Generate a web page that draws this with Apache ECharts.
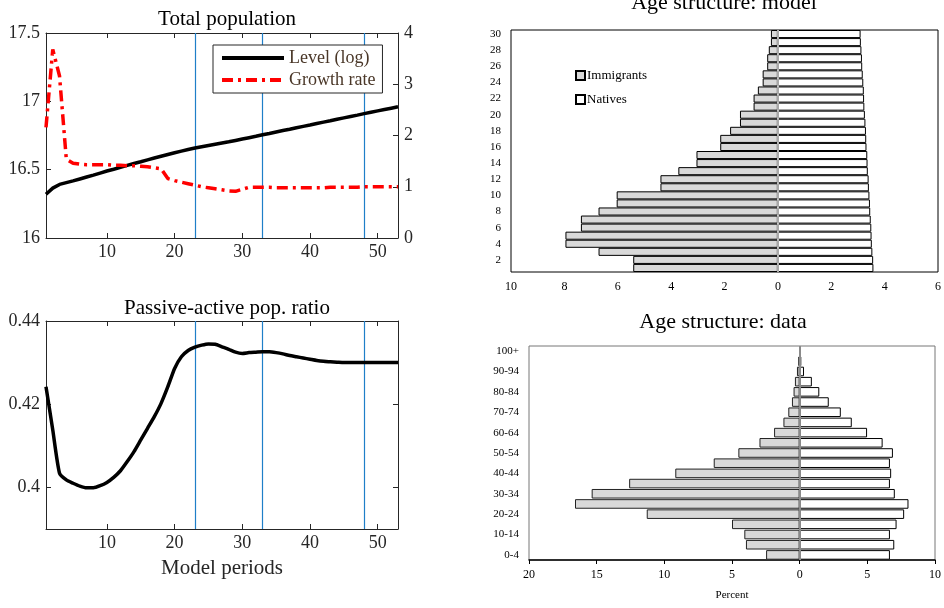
<!DOCTYPE html>
<html><head><meta charset="utf-8">
<script src="https://cdn.jsdelivr.net/npm/echarts@6/dist/echarts.min.js"></script>
<style>html,body{margin:0;padding:0;background:#fff}#c{width:944px;height:608px}</style>
</head><body><div id="c"></div>
<script>
// ---------- data ----------
const periods = [1,2,3,4,5,6,7,8,9,10,11,12,13,14,15,16,17,18,19,20,21,22,23,24,25,26,27,28,29,30,31,32,33,34,35,36,37,38,39,40,41,42,43,44,45,46,47,48,49,50,51,52,53];
const popLevel = [16.320,16.365,16.392,16.405,16.418,16.432,16.446,16.460,16.475,16.490,16.503,16.517,16.531,16.545,16.558,16.572,16.585,16.598,16.611,16.624,16.636,16.648,16.659,16.668,16.677,16.686,16.695,16.704,16.714,16.724,16.734,16.744,16.755,16.765,16.776,16.786,16.796,16.807,16.817,16.827,16.838,16.848,16.858,16.869,16.879,16.889,16.899,16.910,16.920,16.930,16.940,16.950,16.960];
const popGrowth = [2.16,3.68,3.16,1.54,1.46,1.44,1.43,1.43,1.43,1.43,1.42,1.42,1.41,1.41,1.40,1.39,1.37,1.35,1.16,1.12,1.09,1.06,1.03,1.00,0.98,0.96,0.94,0.92,0.91,0.95,0.99,0.99,0.99,0.99,0.98,0.98,0.98,0.98,0.98,0.98,0.98,0.98,0.99,0.99,0.99,0.99,0.99,1.00,1.00,1.00,1.00,1.00,1.00];
const paRatio = [0.4242,0.4138,0.4034,0.4018,0.4010,0.4003,0.3999,0.3999,0.4004,0.4012,0.4024,0.4040,0.4062,0.4086,0.4114,0.4142,0.4170,0.4202,0.4242,0.4286,0.4314,0.4329,0.4337,0.4342,0.4345,0.4344,0.4338,0.4332,0.4325,0.4322,0.4324,0.4325,0.4326,0.4326,0.4324,0.4321,0.4317,0.4314,0.4311,0.4308,0.4305,0.4303,0.4302,0.4301,0.4300,0.4300,0.4300,0.4300,0.4300,0.4300,0.4300,0.4300,0.4300];
const markPeriods = [23, 33, 48];
const periodTicks = [10, 20, 30, 40, 50];
const ratioTicks = [0.40, 0.42, 0.44];

const modelAges = [1,2,3,4,5,6,7,8,9,10,11,12,13,14,15,16,17,18,19,20,21,22,23,24,25,26,27,28,29,30];
const modelImmigrants = [5.42,5.42,6.72,7.96,7.96,7.38,7.38,6.72,6.04,6.04,4.40,4.40,3.73,3.05,3.05,2.16,2.16,1.79,1.42,1.42,0.91,0.91,0.75,0.57,0.57,0.40,0.40,0.34,0.26,0.26];
const modelNatives = [3.58,3.57,3.54,3.52,3.51,3.50,3.48,3.46,3.45,3.43,3.41,3.40,3.37,3.36,3.35,3.32,3.31,3.30,3.28,3.26,3.24,3.23,3.22,3.20,3.18,3.16,3.15,3.13,3.11,3.10];

const dataAges = ['0-4','5-9','10-14','15-19','20-24','25-29','30-34','35-39','40-44','45-49','50-54','55-59','60-64','65-69','70-74','75-79','80-84','85-89','90-94','95-99','100+'];
const dataImmigrants = [2.48,3.97,4.09,5.00,11.3,16.6,15.37,12.6,9.19,6.35,4.53,2.97,1.89,1.20,0.84,0.57,0.45,0.35,0.20,0.10,0.02];
const dataNatives = [6.67,6.99,6.67,7.16,7.72,8.04,7.03,6.67,6.76,6.67,6.89,6.13,4.98,3.85,3.04,2.15,1.45,0.90,0.32,0.12,0.05];

// ---------- chart ----------
const TEX = 'Liberation Serif';
const TNR = 'Liberation Serif';
const pair = (xs, ys) => xs.map((x, i) => [x, ys[i]]);
const neg = a => a.map(v => -v);

const matX = (grid, pos, showLabels, extra) => Object.assign({
  type: 'value', gridIndex: grid, position: pos, min: 1, max: 53,
  axisLine: {show: true, onZero: false, lineStyle: {color: '#262626', width: 1}},
  axisTick: {show: true, inside: true, length: 5, customValues: periodTicks, lineStyle: {color: '#262626'}},
  axisLabel: {show: showLabels, customValues: periodTicks, margin: 5, fontFamily: TEX, fontSize: 18, color: '#262626'},
  splitLine: {show: false}
}, extra || {});

const option = {
  animation: false,
  backgroundColor: '#fff',
  title: [
    {text: 'Total population', left: 222, top: 4, textAlign: 'center', textStyle: {fontFamily: TEX, fontSize: 21, fontWeight: 'normal', color: '#000'}},
    {text: 'Passive-active pop. ratio', left: 222, top: 293, textAlign: 'center', textStyle: {fontFamily: TEX, fontSize: 21, fontWeight: 'normal', color: '#000'}},
    {text: 'Age structure: model', left: 719, top: -13, textAlign: 'center', textStyle: {fontFamily: TNR, fontSize: 22, fontWeight: 'normal', color: '#000'}},
    {text: 'Age structure: data', left: 718, top: 306, textAlign: 'center', textStyle: {fontFamily: TNR, fontSize: 22, fontWeight: 'normal', color: '#000'}}
  ],
  legend: [
    {data: ['Level (log)', 'Growth rate'], orient: 'vertical', left: 213, top: 45,
     padding: [4, 7, 4, 7], itemGap: 4, itemWidth: 62, itemHeight: 14,
     itemStyle: {opacity: 0}, lineStyle: {width: 4},
     backgroundColor: '#fff', borderColor: '#262626', borderWidth: 1, borderRadius: 0,
     textStyle: {fontFamily: TEX, fontSize: 18, color: '#4a3728'}},
    {data: ['Immigrants', 'Natives'], orient: 'vertical', left: 570, top: 64,
     itemGap: 11, itemWidth: 9, itemHeight: 9, icon: 'rect',
     textStyle: {fontFamily: TNR, fontSize: 13, color: '#000', padding: [0, 0, 0, -3]}}
  ],
  grid: [
    {left: 46, top: 33, width: 352, height: 205, show: false},
    {left: 46, top: 321, width: 352, height: 208, show: false},
    {left: 511, top: 30, width: 429, height: 242, show: true, borderColor: '#000', borderWidth: 1, backgroundColor: 'transparent'},
    {left: 529, top: 346, width: 408, height: 214, show: true, borderColor: '#777', borderWidth: 1, backgroundColor: 'transparent'}
  ],
  xAxis: [
    matX(0, 'bottom', true),
    matX(0, 'top', false),
    matX(1, 'bottom', true, {name: 'Model periods', nameLocation: 'middle', nameGap: 29,
      nameTextStyle: {fontFamily: TEX, fontSize: 21, color: '#262626'}}),
    matX(1, 'top', false),
    {type: 'value', gridIndex: 2, min: -10, max: 6, interval: 2,
     axisLine: {show: false}, axisTick: {show: false}, splitLine: {show: false},
     axisLabel: {margin: 9, fontFamily: TNR, fontSize: 12, color: '#000', formatter: v => String(Math.abs(v))}},
    {type: 'value', gridIndex: 3, min: -20, max: 10, interval: 5,
     axisLine: {show: true, onZero: false, lineStyle: {color: '#000', width: 1.5}},
     axisTick: {show: true, inside: false, length: 4, lineStyle: {color: '#000'}}, splitLine: {show: false},
     axisLabel: {margin: 9, fontFamily: TNR, fontSize: 12, color: '#000', formatter: v => String(Math.abs(v))},
     name: 'Percent', nameLocation: 'middle', nameGap: 30, nameTextStyle: {fontFamily: TNR, fontSize: 11, color: '#000'}}
  ],
  yAxis: [
    {type: 'value', gridIndex: 0, position: 'left', min: 16, max: 17.5, interval: 0.5,
     axisLine: {show: true, onZero: false, lineStyle: {color: '#262626'}},
     axisTick: {show: true, inside: true, length: 5, lineStyle: {color: '#262626'}},
     axisLabel: {margin: 6, fontFamily: TEX, fontSize: 18, color: '#262626'}, splitLine: {show: false}},
    {type: 'value', gridIndex: 0, position: 'right', min: 0, max: 4, interval: 1,
     axisLine: {show: true, onZero: false, lineStyle: {color: '#262626'}},
     axisTick: {show: true, inside: true, length: 5, lineStyle: {color: '#262626'}},
     axisLabel: {margin: 6, fontFamily: TEX, fontSize: 18, color: '#262626'}, splitLine: {show: false}},
    {type: 'value', gridIndex: 1, position: 'left', min: 0.39, max: 0.44,
     axisLine: {show: true, onZero: false, lineStyle: {color: '#262626'}},
     axisTick: {show: true, inside: true, length: 5, customValues: ratioTicks, lineStyle: {color: '#262626'}},
     axisLabel: {margin: 6, customValues: ratioTicks, fontFamily: TEX, fontSize: 18, color: '#262626',
       formatter: v => String(+v.toFixed(2))}, splitLine: {show: false}},
    {type: 'value', gridIndex: 1, position: 'right', min: 0.39, max: 0.44,
     axisLine: {show: true, onZero: false, lineStyle: {color: '#262626'}},
     axisTick: {show: true, inside: true, length: 5, customValues: ratioTicks, lineStyle: {color: '#262626'}},
     axisLabel: {show: false}, splitLine: {show: false}},
    {type: 'category', gridIndex: 2, data: modelAges, axisLine: {show: false}, axisTick: {show: false},
     axisLabel: {margin: 10, interval: i => i % 2 === 1, fontFamily: TNR, fontSize: 11, color: '#000'}},
    {type: 'category', gridIndex: 3, data: dataAges, axisLine: {show: false}, axisTick: {show: false},
     axisLabel: {margin: 10, interval: 1, fontFamily: TNR, fontSize: 11, color: '#000'}}
  ],
  series: [
    {name: 'Level (log)', type: 'line', xAxisIndex: 0, yAxisIndex: 0, data: pair(periods, popLevel),
     symbol: 'none', z: 4, lineStyle: {color: '#000', width: 3.5}, itemStyle: {color: '#000'},
     markLine: {silent: true, symbol: 'none', z: 1, label: {show: false},
       lineStyle: {color: '#1f7fc8', width: 1.2, type: 'solid'},
       data: markPeriods.map(p => ({xAxis: p}))}},
    {name: 'Growth rate', type: 'line', xAxisIndex: 0, yAxisIndex: 1, data: pair(periods, popGrowth),
     symbol: 'none', z: 4, lineStyle: {color: '#ff0000', width: 3.5, type: [11, 5, 3, 5]}, itemStyle: {color: '#ff0000'}},
    {name: 'Passive-active', type: 'line', xAxisIndex: 2, yAxisIndex: 2, data: pair(periods, paRatio),
     symbol: 'none', z: 4, smooth: 0.2, lineStyle: {color: '#000', width: 3.5},
     markLine: {silent: true, symbol: 'none', z: 1, label: {show: false},
       lineStyle: {color: '#1f7fc8', width: 1.2, type: 'solid'},
       data: markPeriods.map(p => ({xAxis: p}))}},
    {name: 'Immigrants', type: 'bar', xAxisIndex: 4, yAxisIndex: 4, data: neg(modelImmigrants),
     barGap: '-100%', barCategoryGap: '0%',
     itemStyle: {color: '#d9d9d9', borderColor: '#000', borderWidth: 1}},
    {name: 'Natives', type: 'bar', xAxisIndex: 4, yAxisIndex: 4, data: modelNatives,
     barGap: '-100%', barCategoryGap: '0%',
     itemStyle: {color: '#fff', borderColor: '#000', borderWidth: 1},
     markLine: {silent: true, symbol: 'none', label: {show: false},
       lineStyle: {color: '#d8d8d8', width: 1.5, type: 'solid'}, data: [{xAxis: 0}]}},
    {name: 'Immigrants (data)', type: 'bar', xAxisIndex: 5, yAxisIndex: 5, data: neg(dataImmigrants),
     barGap: '-100%', barCategoryGap: '6%',
     itemStyle: {color: '#d9d9d9', borderColor: '#222', borderWidth: 1}},
    {name: 'Natives (data)', type: 'bar', xAxisIndex: 5, yAxisIndex: 5, data: dataNatives,
     barGap: '-100%', barCategoryGap: '6%',
     itemStyle: {color: '#fff', borderColor: '#000', borderWidth: 1},
     markLine: {silent: true, symbol: 'none', label: {show: false},
       lineStyle: {color: '#8a8a8a', width: 2, type: 'solid'}, data: [{xAxis: 0}]}}
  ]
};
const chart = echarts.init(document.getElementById('c'), null, {renderer: 'canvas'});
chart.setOption(option);
</script></body></html>
